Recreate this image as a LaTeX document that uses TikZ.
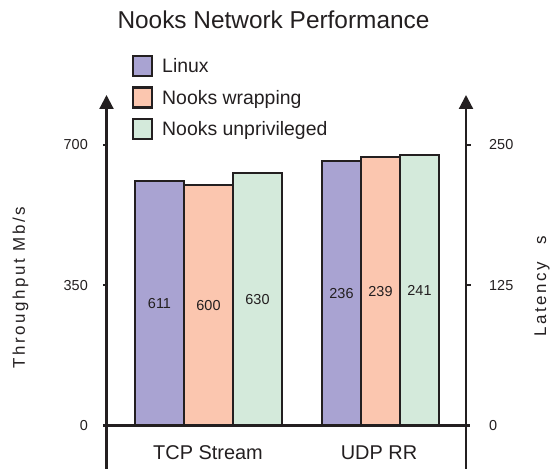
\documentclass[tikz,border=0pt]{standalone}
\usepackage{fontspec}
\setmainfont{Liberation Sans}
\usetikzlibrary{arrows.meta}
\definecolor{inkc}{HTML}{231F20}
\definecolor{linuxc}{HTML}{A9A3D2}
\definecolor{wrapc}{HTML}{FBC6AF}
\definecolor{unprivc}{HTML}{D4EADB}
\begin{document}
\begin{tikzpicture}[x=1bp,y=-1bp,
  ink/.style={draw=inkc, line width=2.2bp},
  bar/.style={ink, inner sep=0pt, text=inkc, font=\fontsize{14.5}{16}\selectfont},
  widebar/.style={bar, minimum width=49bp},
  narrowbar/.style={bar, minimum width=39bp},
  legbox/.style={ink, inner sep=0pt, minimum width=19bp, minimum height=20bp},
  legtext/.style={anchor=base west, inner sep=0pt, text=inkc, font=\fontsize{19.5}{22}\selectfont},
  ticklab/.style={inner sep=0pt, text=inkc, font=\fontsize{14.5}{16}\selectfont},
  catlab/.style={inner sep=0pt, text=inkc, font=\fontsize{20}{22}\selectfont},
  axlab/.style={inner sep=0pt, rotate=90, text=inkc, font=\fontsize{17}{19}\selectfont},
  axisline/.style={draw=inkc, line width=2.2bp},
  tickline/.style={draw=inkc, line width=1.5bp}
]
\useasboundingbox (0,0) rectangle (550,469);

% title
\node[inner sep=0pt, text=inkc, font=\fontsize{24.5}{27}\selectfont] (title) at (273.5,20) {Nooks Network Performance};

% legend
\node[legbox, fill=linuxc] (lg1) at (142.5,66) {};
\node[legbox, fill=wrapc] (lg2) at (142.5,97.5) {};
\node[legbox, fill=unprivc] (lg3) at (142.5,129) {};
\node[legtext] (lt1) at (162,73) {Linux};
\node[legtext] (lt2) at (162,104.5) {Nooks wrapping};
\node[legtext] (lt3) at (162,136) {Nooks unprivileged};

% bars TCP Stream
\node[widebar, fill=linuxc, minimum height=244.8bp] (tcp1) at (159.5,303.1) {611};
\node[widebar, fill=wrapc, minimum height=240.4bp] (tcp2) at (208.5,305.3) {600};
\node[widebar, fill=unprivc, minimum height=252.4bp] (tcp3) at (257.5,299.3) {630};
% bars UDP RR
\node[narrowbar, fill=linuxc, minimum height=264.8bp] (udp1) at (341.5,293.1) {236};
\node[narrowbar, fill=wrapc, minimum height=268.2bp] (udp2) at (380.5,291.4) {239};
\node[narrowbar, fill=unprivc, minimum height=270.4bp] (udp3) at (419.5,290.3) {241};

% axes
\coordinate (lbot) at (106.5,469);
\coordinate (ltop) at (106.5,95);
\coordinate (rbot) at (466,469);
\coordinate (rtop) at (466,95);
\coordinate (b0) at (103,425.5);
\coordinate (b1) at (470,425.5);
\draw[axisline, -{Triangle[length=14bp,width=14bp]}] (lbot) -- (ltop);
\draw[axisline, -{Triangle[length=14bp,width=14bp]}] (rbot) -- (rtop);
\draw[axisline] (b0) -- (b1);

% ticks
\coordinate (lt700) at (106.5,145);
\coordinate (lt350) at (106.5,285.2);
\coordinate (rt250) at (466,145);
\coordinate (rt125) at (466,285.2);
\draw[tickline] (lt700) -- ++(-3.5,0);
\draw[tickline] (lt350) -- ++(-3.5,0);
\draw[tickline] (rt250) -- ++(5,0);
\draw[tickline] (rt125) -- ++(5,0);

% tick labels
\node[ticklab, anchor=east] (l700) at (88,145) {700};
\node[ticklab, anchor=east] (l350) at (88,285.2) {350};
\node[ticklab, anchor=east] (l0) at (88,425.5) {0};
\node[ticklab, anchor=west] (r250) at (489,145) {250};
\node[ticklab, anchor=west] (r125) at (489,285.2) {125};
\node[ticklab, anchor=west] (r0) at (489,425.5) {0};

% category labels
\node[catlab] (cat1) at (208,453) {TCP Stream};
\node[catlab] (cat2) at (379,453) {UDP RR};

% axis titles
\node[axlab] (yl) at (20.5,287.5) {\addfontfeature{LetterSpace=15}Throughput Mb/s};
\node[axlab] (yr) at (542,286.5) {\addfontfeature{LetterSpace=15}Latency\hspace{17bp}s};
\end{tikzpicture}
\end{document}
